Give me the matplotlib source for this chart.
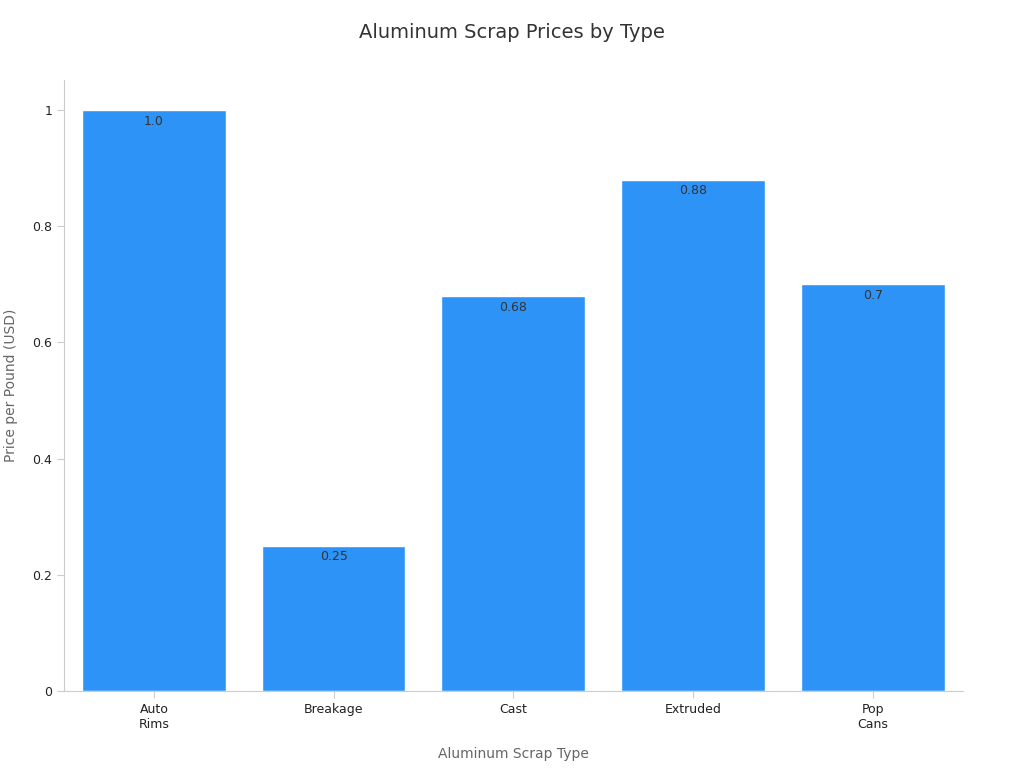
import matplotlib
matplotlib.use("Agg")
import matplotlib.pyplot as plt

categories = ["Auto\nRims", "Breakage", "Cast", "Extruded", "Pop\nCans"]
prices = [1.0, 0.25, 0.68, 0.88, 0.7]
value_labels = ["1.0", "0.25", "0.68", "0.88", "0.7"]

fig = plt.figure(figsize=(10.24, 7.68), dpi=100)
ax = fig.add_axes([0.0625, 0.1003, 0.8775, 0.7957])

x = range(len(categories))
ax.bar(x, prices, width=0.8, color="#2E93F7", edgecolor="white", linewidth=1)
for xi, v, lab in zip(x, prices, value_labels):
    ax.text(xi, v - 0.008, lab, ha="center", va="top", fontsize=9, color="#333333")

ax.set_xlim(-0.5, 4.5)
ax.set_ylim(0, 1.052)
ax.set_xticks(list(x))
ax.set_xticklabels(categories, fontsize=9, color="#222222")
ax.set_yticks([0, 0.2, 0.4, 0.6, 0.8, 1.0])
ax.set_yticklabels(["0", "0.2", "0.4", "0.6", "0.8", "1"], fontsize=9, color="#222222")
ax.tick_params(color="#cccccc", length=5)
for s in ["top", "right"]:
    ax.spines[s].set_visible(False)
for s in ["left", "bottom"]:
    ax.spines[s].set_color("#cccccc")

ax.set_xlabel("Aluminum Scrap Type", fontsize=10, color="#666666", labelpad=12)
ax.set_ylabel("Price per Pound (USD)", fontsize=10, color="#666666", labelpad=10)
fig.suptitle("Aluminum Scrap Prices by Type", fontsize=14, color="#333333", y=0.97)

fig.savefig("out.png", dpi=100)
